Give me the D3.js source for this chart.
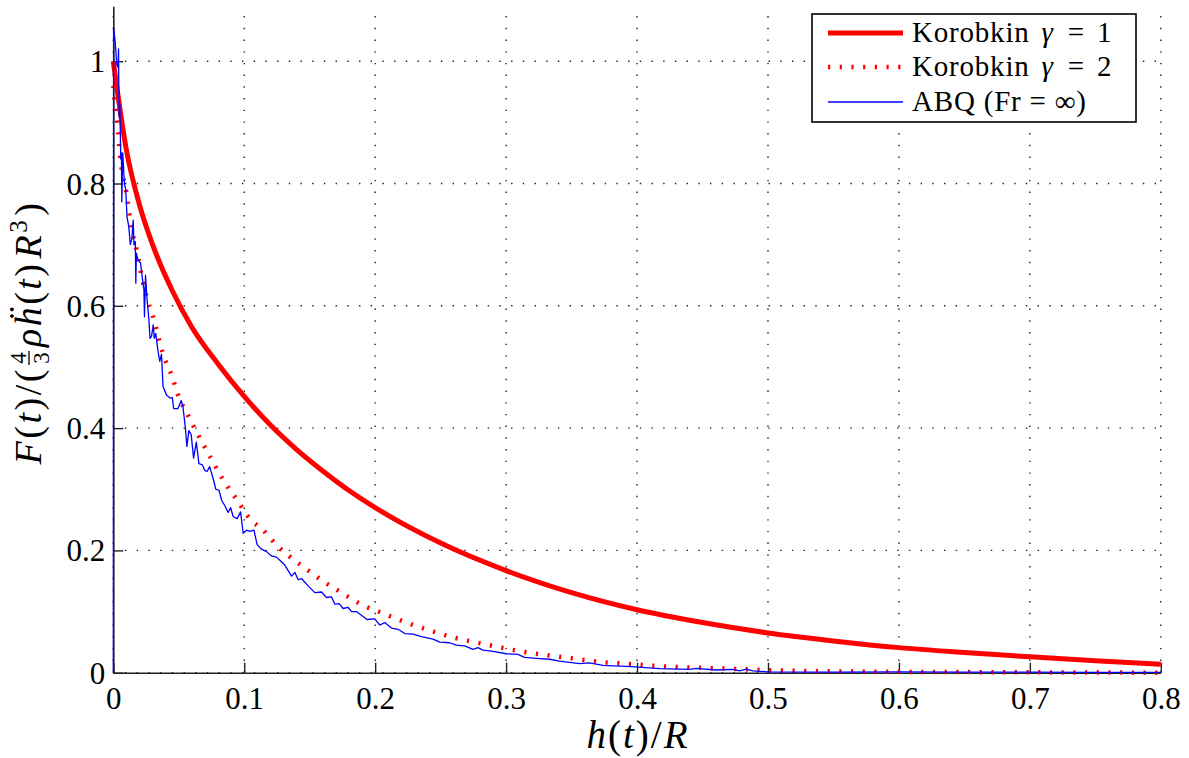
<!DOCTYPE html>
<html>
<head>
<meta charset="utf-8">
<script src="https://cdn.jsdelivr.net/npm/d3@7"></script>
<style>
  body { margin: 0; background: #fff; }
  svg text { font-family: "Liberation Serif", "DejaVu Serif", serif; }
</style>
</head>
<body>
<svg id="chart" width="1189" height="758"></svg>
<script>
// values (h/R, F normalised)
const xTicks = [0, 0.1, 0.2, 0.3, 0.4, 0.5, 0.6, 0.7, 0.8];
const yTicks = [0, 0.2, 0.4, 0.6, 0.8, 1];

const korobkin1 = [
  [0, 1.0], [0.01, 0.855], [0.02, 0.765], [0.03, 0.70], [0.045, 0.625],
  [0.06, 0.565], [0.08, 0.505], [0.1, 0.452], [0.12, 0.405], [0.14, 0.365],
  [0.16, 0.33], [0.18, 0.298], [0.2, 0.27], [0.25, 0.212], [0.3, 0.167],
  [0.35, 0.131], [0.4, 0.103], [0.45, 0.082], [0.5, 0.065], [0.55, 0.052],
  [0.6, 0.041], [0.65, 0.033], [0.7, 0.026], [0.75, 0.0195], [0.8, 0.014]
];

const korobkin2 = [
  [0, 0.96], [0.003, 0.90], [0.006, 0.83], [0.01, 0.785], [0.014, 0.725],
  [0.018, 0.69], [0.022, 0.645], [0.026, 0.61], [0.03, 0.585], [0.038, 0.521],
  [0.045, 0.484], [0.049, 0.457], [0.057, 0.421], [0.065, 0.388], [0.074, 0.353],
  [0.084, 0.315], [0.094, 0.284], [0.105, 0.25], [0.114, 0.234], [0.126, 0.206],
  [0.133, 0.193], [0.147, 0.17], [0.16, 0.15], [0.175, 0.13], [0.19, 0.111],
  [0.206, 0.097], [0.225, 0.081], [0.242, 0.069], [0.259, 0.058], [0.276, 0.05],
  [0.294, 0.042], [0.311, 0.035], [0.334, 0.028], [0.352, 0.023], [0.37, 0.018],
  [0.396, 0.014], [0.422, 0.010], [0.449, 0.008], [0.476, 0.006], [0.503, 0.004],
  [0.56, 0.002], [0.65, 0.001], [0.8, 0.0]
];

const abq = [
  [0, 0], [0.0002, 1.056], [0.0015, 1.03], [0.0026, 0.995], [0.0036, 0.99], [0.004, 1.02],
  [0.0044, 0.91], [0.005, 0.93], [0.0057, 0.84], [0.0062, 0.85], [0.0065, 0.77], [0.0072, 0.85],
  [0.0085, 0.80], [0.0095, 0.79], [0.0105, 0.745], [0.0118, 0.73], [0.013, 0.70], [0.0142, 0.71],
  [0.0152, 0.74], [0.0158, 0.70], [0.0168, 0.705], [0.0172, 0.637], [0.0176, 0.686], [0.0189, 0.675],
  [0.0208, 0.67], [0.0225, 0.64], [0.0234, 0.626], [0.0238, 0.582], [0.0246, 0.65], [0.0256, 0.615],
  [0.0272, 0.577], [0.028, 0.547], [0.0292, 0.55], [0.0305, 0.569], [0.0313, 0.547], [0.0324, 0.555],
  [0.0342, 0.525], [0.0355, 0.509], [0.0368, 0.521], [0.038, 0.468], [0.0406, 0.454], [0.0436, 0.449],
  [0.0451, 0.45], [0.0461, 0.432], [0.0494, 0.432], [0.0519, 0.445], [0.0532, 0.435], [0.0552, 0.397],
  [0.0562, 0.37], [0.0577, 0.396], [0.0595, 0.389], [0.0613, 0.351], [0.0634, 0.377], [0.0654, 0.342],
  [0.068, 0.34], [0.0698, 0.331], [0.0716, 0.329], [0.0736, 0.337], [0.0762, 0.318], [0.0783, 0.30],
  [0.0808, 0.298], [0.0827, 0.282], [0.0852, 0.273], [0.0877, 0.262], [0.0896, 0.27], [0.0916, 0.255],
  [0.0946, 0.252], [0.0972, 0.263], [0.0992, 0.228], [0.1018, 0.233], [0.1043, 0.231], [0.1074, 0.233],
  [0.1099, 0.209], [0.1132, 0.202], [0.117, 0.198], [0.1208, 0.191], [0.1246, 0.189], [0.1272, 0.184],
  [0.131, 0.176], [0.1361, 0.158], [0.1387, 0.164], [0.1412, 0.152], [0.1437, 0.154], [0.1488, 0.142],
  [0.1539, 0.131], [0.159, 0.132], [0.1628, 0.123], [0.1666, 0.124], [0.1692, 0.112], [0.1725, 0.113],
  [0.1755, 0.105], [0.1793, 0.107], [0.1819, 0.10], [0.1857, 0.10], [0.1882, 0.096], [0.1938, 0.087],
  [0.1997, 0.088], [0.2035, 0.078], [0.2073, 0.082], [0.2124, 0.073], [0.2175, 0.071], [0.2226, 0.064],
  [0.229, 0.063], [0.2354, 0.059], [0.2442, 0.055], [0.2493, 0.05], [0.2569, 0.049], [0.262, 0.045],
  [0.2683, 0.044], [0.2747, 0.038], [0.2785, 0.041], [0.2823, 0.037], [0.29, 0.035], [0.3002, 0.031],
  [0.309, 0.030], [0.3141, 0.025], [0.3256, 0.023], [0.3332, 0.022], [0.3408, 0.019], [0.3485, 0.017],
  [0.3561, 0.015], [0.3637, 0.016], [0.3739, 0.012], [0.3956, 0.010], [0.4172, 0.0065], [0.4401, 0.0055],
  [0.4452, 0.007], [0.4605, 0.0044], [0.4732, 0.0055], [0.4783, 0.003], [0.4834, 0.006], [0.4885, 0.003],
  [0.4996, 0.0015], [0.55, 0.001], [0.6, 0.0012], [0.65, 0.0008], [0.7, 0.001], [0.75, 0.0006], [0.8, 0.0005]
];

const svg = d3.select("#chart");
const serif = "'Liberation Serif', 'DejaVu Serif', serif";

const x = d3.scaleLinear().domain([0, 0.8]).range([113.3, 1160.8]);
const y = d3.scaleLinear().domain([0, 1.09]).range([672.7, 6.2]);

// grid
const grid = svg.append("g").attr("stroke", "#222").attr("stroke-width", 1.4)
  .attr("stroke-dasharray", "1.4,10.3");
grid.selectAll(".vg").data(xTicks).join("line")
  .attr("x1", d => x(d)).attr("x2", d => x(d))
  .attr("y1", y(0)).attr("y2", y(1.09));
grid.selectAll(".hg").data(yTicks).join("line")
  .attr("x1", x(0)).attr("x2", x(0.8))
  .attr("y1", d => y(d)).attr("y2", d => y(d));

// axes
const xAxis = d3.axisBottom(x).tickValues(xTicks).tickSize(-10).tickSizeOuter(0)
  .tickPadding(14).tickFormat(d3.format(""));
const yAxis = d3.axisLeft(y).tickValues(yTicks).tickSize(-10).tickSizeOuter(0)
  .tickPadding(8).tickFormat(d3.format(""));

const gx = svg.append("g").attr("transform", `translate(0,${y(0)})`).call(xAxis);
const gy = svg.append("g").attr("transform", `translate(${x(0)},0)`).call(yAxis);
[gx, gy].forEach(g => {
  g.attr("font-family", null).attr("font-size", null);
  g.select(".domain").attr("stroke", "#222").attr("stroke-width", 1.6);
  g.selectAll(".tick line").attr("stroke", "#222").attr("stroke-width", 1.4);
  g.selectAll("text").style("font-family", serif).style("font-size", "31px").attr("fill", "#000");
});
gy.selectAll("text").attr("dy", "0.34em");

// curves
const line = d3.line().x(d => x(d[0])).y(d => y(d[1]));
const smooth = d3.line().x(d => x(d[0])).y(d => y(d[1])).curve(d3.curveMonotoneX);

svg.append("path").datum(korobkin1).attr("d", smooth)
  .attr("fill", "none").attr("stroke", "#ff0000").attr("stroke-width", 5);
svg.append("path").datum(korobkin2).attr("d", smooth)
  .attr("fill", "none").attr("stroke", "#ff0000").attr("stroke-width", 4.5)
  .attr("stroke-dasharray", "2.2,9.5");
svg.append("path").datum(abq).attr("d", line)
  .attr("fill", "none").attr("stroke", "#0000ff").attr("stroke-width", 1.3)
  .attr("stroke-linejoin", "round");

// x label
const xl = svg.append("text").attr("x", 638).attr("y", 748)
  .attr("text-anchor", "middle").style("font-family", serif).style("font-size", "39px")
  .style("letter-spacing", "2px");
xl.append("tspan").style("font-style", "italic").text("h");
xl.append("tspan").text("(");
xl.append("tspan").style("font-style", "italic").text("t");
xl.append("tspan").text(")/");
xl.append("tspan").style("font-style", "italic").text("R");

// y label, built piece by piece in a rotated frame
const ylOuter = svg.append("g").attr("transform", "translate(41,335) rotate(-90)");
const yl = ylOuter.append("g");
const fs = 38;
const t1 = yl.append("text").style("font-family", serif).style("font-size", fs + "px")
  .style("letter-spacing", "2.5px");
t1.append("tspan").style("font-style", "italic").text("F");
t1.append("tspan").text("(");
t1.append("tspan").style("font-style", "italic").text("t");
t1.append("tspan").text(")/(");
let cx = t1.node().getComputedTextLength() + 1;
const fr = yl.append("g").attr("transform", `translate(${cx},0)`);
fr.append("text").attr("x", 8).attr("y", -15).attr("text-anchor", "middle")
  .style("font-family", serif).style("font-size", "23px").text("4");
fr.append("text").attr("x", 8).attr("y", 8).attr("text-anchor", "middle")
  .style("font-family", serif).style("font-size", "23px").text("3");
fr.append("line").attr("x1", 1).attr("x2", 15).attr("y1", -12).attr("y2", -12)
  .attr("stroke", "#000").attr("stroke-width", 1.3);
cx += 19;
const t2 = yl.append("text").attr("x", cx).style("font-family", serif)
  .style("font-size", fs + "px").style("letter-spacing", "2.5px");
t2.append("tspan").style("font-style", "italic").text("ρ");
t2.append("tspan").style("font-style", "italic").text("ḧ");
t2.append("tspan").text("(");
t2.append("tspan").style("font-style", "italic").text("t");
t2.append("tspan").text(")");
t2.append("tspan").style("font-style", "italic").attr("dx", 3).text("R");
t2.append("tspan").style("font-size", "25px").attr("dy", -14).text("3");
t2.append("tspan").attr("dy", 14).attr("dx", 2).text(")");
const total = cx + t2.node().getComputedTextLength();
yl.attr("transform", `translate(${-total / 2},0)`);

// legend
const legend = svg.append("g").attr("transform", "translate(812,14)");
legend.append("rect").attr("width", 324).attr("height", 108)
  .attr("fill", "#fff").attr("stroke", "#000").attr("stroke-width", 1.6);

const legendItems = [
  { name: "Korobkin", sym: "γ", rest: " = 1", color: "#ff0000", width: 5, dash: null },
  { name: "Korobkin", sym: "γ", rest: " = 2", color: "#ff0000", width: 4.5, dash: "2.2,9.5" },
  { name: "ABQ (Fr = ∞)", sym: null, rest: "", color: "#0000ff", width: 1.3, dash: null }
];
const rowY = [19, 53, 88];
legendItems.forEach((it, i) => {
  legend.append("line").attr("x1", 16).attr("x2", 91)
    .attr("y1", rowY[i]).attr("y2", rowY[i])
    .attr("stroke", it.color).attr("stroke-width", it.width)
    .attr("stroke-dasharray", it.dash);
  const t = legend.append("text").attr("x", 100).attr("y", rowY[i] + 9)
    .style("font-family", serif).style("font-size", "29px").style("letter-spacing", "0.8px");
  t.append("tspan").text(it.name);
  if (it.sym) {
    t.append("tspan").attr("dx", 12).style("font-style", "italic").text(it.sym);
    t.append("tspan").attr("dx", 2).style("word-spacing", "4px").text(it.rest);
  }
});
</script>
</body>
</html>
